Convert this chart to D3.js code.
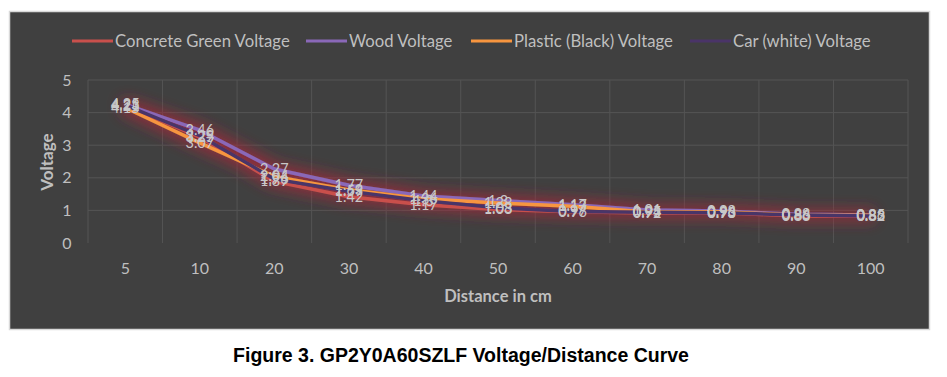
<!DOCTYPE html>
<html>
<head>
<meta charset="utf-8">
<script src="https://cdn.jsdelivr.net/npm/d3@7"></script>
<style>
  body { margin: 0; background: #fff; }
  svg { display: block; }
</style>
</head>
<body>
<div id="chart"></div>
<script>
// values
var categories = ['5', '10', '20', '30', '40', '50', '60', '70', '80', '90', '100'];
var concrete = [4.21, 3.25, 1.89, 1.42, 1.17, 1.03, 0.96, 0.92, 0.93, 0.83, 0.82];
var wood     = [4.25, 3.46, 2.27, 1.77, 1.44, 1.30, 1.17, 1.01, 0.98, 0.88, 0.86];
var plastic  = [4.15, 3.07, 2.04, 1.63, 1.36, 1.23, 1.13, 0.95, 0.96, 0.86, 0.85];
var car      = [4.23, 3.29, 1.96, 1.59, 1.30, 1.08, 0.97, 0.94, 0.93, 0.86, 0.83];
var yTicks = [0, 1, 2, 3, 4, 5];

var seriesNames = ['Concrete Green Voltage', 'Wood Voltage', 'Plastic (Black) Voltage', 'Car (white) Voltage'];
var seriesColors = ['#c9504c', '#8a68b8', '#f7953f', '#4a3468'];
var seriesValues = [concrete, wood, plastic, car];

var W = 947, H = 377;
var plot = { left: 88, right: 908, top: 80, bottom: 243 };
var font = 'Lato, "Open Sans", sans-serif';
var textColor = '#bfbfbf';

var svg = d3.select('#chart').append('svg')
    .attr('width', W)
    .attr('height', H);

// soft reddish glow round the lines
var defs = svg.append('defs');
var glow = defs.append('filter')
    .attr('id', 'glow')
    .attr('x', '-20%').attr('y', '-80%')
    .attr('width', '140%').attr('height', '260%');
glow.append('feMorphology')
    .attr('in', 'SourceAlpha')
    .attr('operator', 'dilate')
    .attr('radius', 4)
    .attr('result', 'fat');
glow.append('feGaussianBlur')
    .attr('in', 'fat')
    .attr('stdDeviation', 7)
    .attr('result', 'blur');
glow.append('feFlood').attr('flood-color', '#a8283a').attr('flood-opacity', 0.7);
glow.append('feComposite').attr('in2', 'blur').attr('operator', 'in').attr('result', 'glowCol');
var merge = glow.append('feMerge');
merge.append('feMergeNode').attr('in', 'glowCol');
merge.append('feMergeNode').attr('in', 'SourceGraphic');

// panel
svg.append('rect')
    .attr('x', 9.5).attr('y', 11.5)
    .attr('width', 920).attr('height', 318)
    .attr('fill', '#404040')
    .attr('stroke', '#d9d9d9')
    .attr('stroke-width', 1.5);

var x = d3.scaleBand()
    .domain(categories)
    .range([plot.left, plot.right]);

var y = d3.scaleLinear()
    .domain([0, 5])
    .range([plot.bottom, plot.top]);

// gridlines
var grid = svg.append('g').attr('class', 'grid');
grid.selectAll('line.h')
    .data(yTicks.filter(function (d) { return d > 0; }))
    .enter().append('line')
    .attr('class', 'h')
    .attr('x1', plot.left).attr('x2', plot.right)
    .attr('y1', function (d) { return y(d); })
    .attr('y2', function (d) { return y(d); })
    .attr('stroke', '#545454')
    .attr('stroke-width', 1);
grid.selectAll('line.v')
    .data(categories.concat(['end']))
    .enter().append('line')
    .attr('class', 'v')
    .attr('x1', function (d, i) { return plot.left + i * x.bandwidth(); })
    .attr('x2', function (d, i) { return plot.left + i * x.bandwidth(); })
    .attr('y1', plot.top).attr('y2', plot.bottom)
    .attr('stroke', '#545454')
    .attr('stroke-width', 1);

// axes
var yAxis = svg.append('g')
    .attr('transform', 'translate(' + (plot.left - 21) + ',0)')
    .call(d3.axisLeft(y).tickValues(yTicks).tickFormat(d3.format('d')).tickSize(0).tickPadding(0));
yAxis.select('.domain').remove();
yAxis.selectAll('text')
    .attr('fill', textColor)
    .attr('text-anchor', 'middle')
    .style('font-family', font)
    .style('font-size', '16px');

var xAxis = svg.append('g')
    .attr('transform', 'translate(0,' + (plot.bottom + 20) + ')')
    .call(d3.axisBottom(x).tickSize(0).tickPadding(0));
xAxis.select('.domain').remove();
xAxis.selectAll('text')
    .attr('fill', textColor)
    .style('font-family', font)
    .style('font-size', '16px');

// axis titles
svg.append('text')
    .attr('x', 498)
    .attr('y', 302)
    .attr('text-anchor', 'middle')
    .attr('fill', textColor)
    .style('font-family', font)
    .style('font-size', '16.5px')
    .style('font-weight', 'bold')
    .text('Distance in cm');

svg.append('text')
    .attr('transform', 'translate(53,' + 162 + ') rotate(-90)')
    .attr('text-anchor', 'middle')
    .attr('fill', textColor)
    .style('font-family', font)
    .style('font-size', '17px')
    .style('font-weight', 'bold')
    .text('Voltage');

// lines
var line = d3.line()
    .x(function (d, i) { return x(categories[i]) + x.bandwidth() / 2; })
    .y(function (d) { return y(d); });

var linesG = svg.append('g').attr('filter', 'url(#glow)');
linesG.selectAll('path')
    .data(seriesValues)
    .enter().append('path')
    .attr('d', line)
    .attr('fill', 'none')
    .attr('stroke', function (d, i) { return seriesColors[i]; })
    .attr('stroke-width', 3.5)
    .attr('stroke-linejoin', 'round');

// data labels
seriesValues.forEach(function (vals) {
    svg.append('g').selectAll('text')
        .data(vals)
        .enter().append('text')
        .attr('x', function (d, i) { return x(categories[i]) + x.bandwidth() / 2; })
        .attr('y', function (d) { return y(d) + 5; })
        .attr('text-anchor', 'middle')
        .attr('fill', '#c8c8c8')
        .style('font-family', font)
        .style('font-size', '14.5px')
        .text(function (d) { return String(d); });
});

// legend
var legendX = [72, 306, 471, 690];
var legend = svg.append('g').attr('class', 'legend');
seriesNames.forEach(function (name, i) {
    var g = legend.append('g').attr('transform', 'translate(' + legendX[i] + ',41)');
    g.append('line')
        .attr('x1', 0).attr('x2', 41)
        .attr('y1', 0).attr('y2', 0)
        .attr('stroke', seriesColors[i])
        .attr('stroke-width', 3);
    g.append('text')
        .attr('x', 43)
        .attr('y', 6)
        .attr('fill', textColor)
        .style('font-family', font)
        .style('font-size', '16.7px')
        .text(name);
});

// caption
svg.append('text')
    .attr('x', 461)
    .attr('y', 362)
    .attr('text-anchor', 'middle')
    .attr('fill', '#000')
    .style('font-family', '"Liberation Sans", Arial, sans-serif')
    .style('font-size', '19.5px')
    .style('font-weight', 'bold')
    .text('Figure 3. GP2Y0A60SZLF Voltage/Distance Curve');
</script>
</body>
</html>
